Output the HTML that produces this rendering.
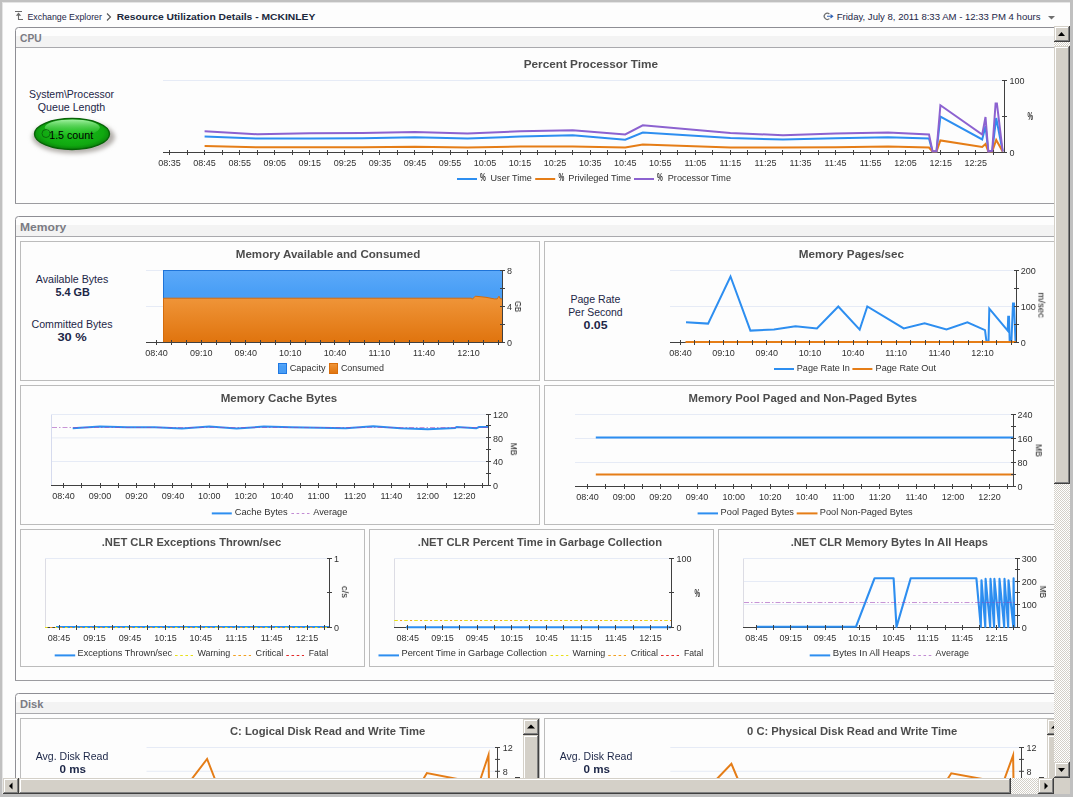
<!DOCTYPE html>
<html><head><meta charset="utf-8"><title>Resource Utilization Details - MCKINLEY</title>
<style>html,body{margin:0;padding:0;background:#c0c0c0;overflow:hidden}svg{display:block;font-family:"Liberation Sans",sans-serif}text{white-space:pre}.g{will-change:opacity}</style></head><body>
<svg width="1073" height="797" viewBox="0 0 1073 797">
<defs><pattern id="chk" width="2" height="2" patternUnits="userSpaceOnUse"><rect width="2" height="2" fill="#ffffff"/><rect width="1" height="1" fill="#d4d0c8"/><rect x="1" y="1" width="1" height="1" fill="#d4d0c8"/></pattern><linearGradient id="gor" x1="0" y1="0" x2="0" y2="1"><stop offset="0" stop-color="#f0963a"/><stop offset="1" stop-color="#e0740e"/></linearGradient><linearGradient id="gbl" x1="0" y1="0" x2="0" y2="1"><stop offset="0" stop-color="#5ca9f9"/><stop offset="0.3" stop-color="#4a9ff6"/><stop offset="1" stop-color="#479cf5"/></linearGradient><radialGradient id="ggr" cx="0.5" cy="0.45" r="0.6"><stop offset="0" stop-color="#1cc01c"/><stop offset="0.7" stop-color="#10a810"/><stop offset="1" stop-color="#077007"/></radialGradient><linearGradient id="ghl" x1="0" y1="0" x2="0" y2="1"><stop offset="0" stop-color="#a4f2a4" stop-opacity="1"/><stop offset="1" stop-color="#38cc38" stop-opacity="0.12"/></linearGradient><filter id="blur" x="-20%" y="-20%" width="140%" height="140%"><feGaussianBlur stdDeviation="2"/></filter></defs>
<rect x="0" y="0" width="1073" height="797" fill="#c0c0c0" />
<rect x="2" y="2" width="1068" height="792" fill="#e4e4e4" />
<rect x="3" y="3" width="1067" height="791" fill="#fdfdfd" />
<path d="M15 11.5H22M18.5 15V19.5H23" fill="none" stroke="#6a6a6a" stroke-width="1.1"/><path d="M18.5 12.6L21.2 15.8H15.8Z" fill="#6a6a6a"/>
<text x="27.5" y="20" font-size="9.5" fill="#1c2647" textLength="74.4" lengthAdjust="spacingAndGlyphs">Exchange Explorer</text>
<path d="M107 13.5L110.5 17L107 20.5" fill="none" stroke="#555" stroke-width="1.1"/>
<text x="116.7" y="20" font-size="9.6" fill="#20283c" font-weight="bold" textLength="198.6" lengthAdjust="spacingAndGlyphs">Resource Utilization Details - MCKINLEY</text>
<path d="M829.4 14A3.1 3.1 0 1 0 829.4 18.6" fill="none" stroke="#6e6e6e" stroke-width="1.2"/><path d="M827 16.3H832.4M830.5 14.6L832.7 16.3L830.5 18" fill="none" stroke="#2f62b5" stroke-width="1.1"/>
<text x="836.7" y="20" font-size="9.5" fill="#1c2647" textLength="203.8" lengthAdjust="spacingAndGlyphs">Friday, July 8, 2011 8:33 AM - 12:33 PM 4 hours</text>
<path d="M1048 16H1055L1051.5 19.6Z" fill="#6e6e6e"/>
<path d="M15.5 203.5V30.5Q15.5 27.5 18.5 27.5H1060" fill="none" stroke="#8e8e94"/>
<line x1="15" y1="203.5" x2="1060" y2="203.5" stroke="#9c9ca0" stroke-width="1" />
<rect x="16" y="36" width="1060" height="11" fill="#f3f3f3" />
<line x1="16" y1="47.5" x2="1060" y2="47.5" stroke="#a9a9ad" stroke-width="1" />
<text x="20" y="42" font-size="11" fill="#7b7b83" font-weight="bold" textLength="21.6" lengthAdjust="spacingAndGlyphs">CPU</text>
<text x="71.5" y="98" font-size="11" fill="#1c2647" text-anchor="middle" textLength="85.2" lengthAdjust="spacingAndGlyphs">System\Processor</text>
<text x="71.5" y="111" font-size="11" fill="#1c2647" text-anchor="middle" textLength="67.5" lengthAdjust="spacingAndGlyphs">Queue Length</text>
<ellipse cx="73.5" cy="137" rx="41.5" ry="16.5" fill="#b4b0ac" filter="url(#blur)"/>
<ellipse cx="72" cy="134" rx="37.5" ry="15.5" fill="url(#ggr)" stroke="#076407" stroke-width="1.4"/>
<ellipse cx="72.3" cy="127.6" rx="27.5" ry="8.2" fill="url(#ghl)"/>
<circle cx="46" cy="133.5" r="4" fill="none" stroke="#0a5a0a" stroke-width="0.8"/>
<text x="71.2" y="138.5" font-size="11" fill="#000" text-anchor="middle" textLength="44" lengthAdjust="spacingAndGlyphs">1.5 count</text>
<text x="590.9" y="67.7" font-size="11.5" fill="#4c4c4c" text-anchor="middle" font-weight="bold" textLength="134.4" lengthAdjust="spacingAndGlyphs" class="g">Percent Processor Time</text>
<line x1="163" y1="80.5" x2="1003" y2="80.5" stroke="#e6ebf6" stroke-width="1" />
<line x1="163" y1="152.5" x2="1005" y2="152.5" stroke="#404040" stroke-width="1" />
<polyline points="204.6,136.6 257.2,138.6 309.8,138.4 362.4,138.2 414.9,137.2 467.5,138.6 520.1,136.6 572.7,135.2 625.2,139.7 642.8,132.6 730.4,138.1 783.0,139.4 835.5,138.2 888.1,137.3 929.0,138.4 932.5,151.5 936.5,151.5 940.4,116.5 982.2,139.4 985.5,125.9 988.3,151.5 992.2,151.5 996.2,118.0 1002.7,151.5" fill="none" stroke="#2d8ef0" stroke-width="2" stroke-linejoin="miter" stroke-miterlimit="3" />
<polyline points="204.6,146.1 257.2,147.3 362.4,147.3 414.9,146.8 467.5,147.5 520.1,146.6 572.7,146.4 625.2,147.5 642.8,144.4 730.4,147.5 783.0,147.5 835.5,147.2 888.1,146.5 929.0,147.5 932.5,151.5 936.5,151.5 940.4,140.4 982.2,146.9 985.5,144.0 988.3,151.5 992.2,151.5 996.2,140.0 1002.7,151.5" fill="none" stroke="#e57d17" stroke-width="2" stroke-linejoin="miter" stroke-miterlimit="3" />
<polyline points="204.6,131.3 257.2,134.3 309.8,133.2 362.4,133.0 414.9,132.1 467.5,133.4 520.1,131.3 572.7,130.3 625.2,134.4 642.8,125.3 730.4,133.1 783.0,135.2 835.5,133.4 888.1,132.4 929.0,134.4 932.5,151.3 936.5,151.3 940.4,105.3 982.2,134.6 985.5,117.0 988.3,151.3 992.2,150.8 995.6,103.5 996.9,103.5 1002.7,151.5" fill="none" stroke="#8c62d0" stroke-width="2" stroke-linejoin="miter" stroke-miterlimit="3" />
<path d="M169.5 150V155M187.5 150V155M204.5 150V155M222.5 150V155M239.5 150V155M257.5 150V155M274.5 150V155M292.5 150V155M309.5 150V155M327.5 150V155M344.5 150V155M362.5 150V155M379.5 150V155M397.5 150V155M414.5 150V155M432.5 150V155M450.5 150V155M467.5 150V155M485.5 150V155M502.5 150V155M520.5 150V155M537.5 150V155M555.5 150V155M572.5 150V155M590.5 150V155M607.5 150V155M625.5 150V155M642.5 150V155M660.5 150V155M677.5 150V155M695.5 150V155M712.5 150V155M730.5 150V155M747.5 150V155M765.5 150V155M782.5 150V155M800.5 150V155M818.5 150V155M835.5 150V155M853.5 150V155M870.5 150V155M888.5 150V155M905.5 150V155M923.5 150V155M940.5 150V155M958.5 150V155M975.5 150V155M993.5 150V155" stroke="#404040" stroke-width="1" fill="none"/>
<text x="169.6" y="166" font-size="9" fill="#303030" text-anchor="middle" class="g">08:35</text>
<text x="204.6" y="166" font-size="9" fill="#303030" text-anchor="middle" class="g">08:45</text>
<text x="239.7" y="166" font-size="9" fill="#303030" text-anchor="middle" class="g">08:55</text>
<text x="274.8" y="166" font-size="9" fill="#303030" text-anchor="middle" class="g">09:05</text>
<text x="309.8" y="166" font-size="9" fill="#303030" text-anchor="middle" class="g">09:15</text>
<text x="344.9" y="166" font-size="9" fill="#303030" text-anchor="middle" class="g">09:25</text>
<text x="379.9" y="166" font-size="9" fill="#303030" text-anchor="middle" class="g">09:35</text>
<text x="414.9" y="166" font-size="9" fill="#303030" text-anchor="middle" class="g">09:45</text>
<text x="450.0" y="166" font-size="9" fill="#303030" text-anchor="middle" class="g">09:55</text>
<text x="485.0" y="166" font-size="9" fill="#303030" text-anchor="middle" class="g">10:05</text>
<text x="520.1" y="166" font-size="9" fill="#303030" text-anchor="middle" class="g">10:15</text>
<text x="555.1" y="166" font-size="9" fill="#303030" text-anchor="middle" class="g">10:25</text>
<text x="590.2" y="166" font-size="9" fill="#303030" text-anchor="middle" class="g">10:35</text>
<text x="625.2" y="166" font-size="9" fill="#303030" text-anchor="middle" class="g">10:45</text>
<text x="660.3" y="166" font-size="9" fill="#303030" text-anchor="middle" class="g">10:55</text>
<text x="695.4" y="166" font-size="9" fill="#303030" text-anchor="middle" class="g">11:05</text>
<text x="730.4" y="166" font-size="9" fill="#303030" text-anchor="middle" class="g">11:15</text>
<text x="765.5" y="166" font-size="9" fill="#303030" text-anchor="middle" class="g">11:25</text>
<text x="800.5" y="166" font-size="9" fill="#303030" text-anchor="middle" class="g">11:35</text>
<text x="835.5" y="166" font-size="9" fill="#303030" text-anchor="middle" class="g">11:45</text>
<text x="870.6" y="166" font-size="9" fill="#303030" text-anchor="middle" class="g">11:55</text>
<text x="905.6" y="166" font-size="9" fill="#303030" text-anchor="middle" class="g">12:05</text>
<text x="940.7" y="166" font-size="9" fill="#303030" text-anchor="middle" class="g">12:15</text>
<text x="975.8" y="166" font-size="9" fill="#303030" text-anchor="middle" class="g">12:25</text>
<line x1="1004.5" y1="80" x2="1004.5" y2="153" stroke="#404040" stroke-width="1" />
<path d="M1002 80.5H1007M1002 116.5H1007M1002 152.5H1007" stroke="#404040" stroke-width="1" fill="none"/>
<text x="1009.5" y="84.0" font-size="9" fill="#303030" class="g">100</text>
<text x="1009.5" y="156.0" font-size="9" fill="#303030" class="g">0</text>
<text class="g" x="1030.4" y="120.2" font-size="10.2" font-weight="bold" fill="#303030" text-anchor="middle" textLength="5.6" lengthAdjust="spacingAndGlyphs">%</text>
<line x1="457" y1="179" x2="477" y2="179" stroke="#2d8ef0" stroke-width="2" />
<text class="g" x="480" y="181" font-size="10.4" font-weight="bold" fill="#303030" textLength="5.8" lengthAdjust="spacingAndGlyphs">%</text>
<text x="490.6" y="181" font-size="9" fill="#303030" textLength="41.2" lengthAdjust="spacingAndGlyphs" class="g">User Time</text>
<line x1="535.2" y1="179" x2="555.2" y2="179" stroke="#e57d17" stroke-width="2" />
<text class="g" x="558.4" y="181" font-size="10.4" font-weight="bold" fill="#303030" textLength="5.8" lengthAdjust="spacingAndGlyphs">%</text>
<text x="568.3" y="181" font-size="9" fill="#303030" textLength="62.7" lengthAdjust="spacingAndGlyphs" class="g">Privileged Time</text>
<line x1="634" y1="179" x2="654" y2="179" stroke="#8c62d0" stroke-width="2" />
<text class="g" x="657" y="181" font-size="10.4" font-weight="bold" fill="#303030" textLength="5.8" lengthAdjust="spacingAndGlyphs">%</text>
<text x="667.8" y="181" font-size="9" fill="#303030" textLength="63.2" lengthAdjust="spacingAndGlyphs" class="g">Processor Time</text>
<path d="M15.5 680.5V219.5Q15.5 216.5 18.5 216.5H1060" fill="none" stroke="#8e8e94"/>
<line x1="15" y1="680.5" x2="1060" y2="680.5" stroke="#9c9ca0" stroke-width="1" />
<rect x="16" y="225" width="1060" height="11" fill="#f3f3f3" />
<line x1="16" y1="236.5" x2="1060" y2="236.5" stroke="#a9a9ad" stroke-width="1" />
<text x="20" y="231" font-size="11" fill="#7b7b83" font-weight="bold" textLength="46.3" lengthAdjust="spacingAndGlyphs">Memory</text>
<rect x="20.5" y="241.5" width="519" height="139" fill="none" stroke="#bcbcbc"/>
<text x="72" y="283.3" font-size="11" fill="#1c2647" text-anchor="middle" textLength="72.5" lengthAdjust="spacingAndGlyphs">Available Bytes</text>
<text x="72.6" y="296" font-size="11" fill="#1c2647" text-anchor="middle" font-weight="bold" textLength="34.4" lengthAdjust="spacingAndGlyphs">5.4 GB</text>
<text x="72" y="328" font-size="11" fill="#1c2647" text-anchor="middle" textLength="81" lengthAdjust="spacingAndGlyphs">Committed Bytes</text>
<text x="72.1" y="341" font-size="11" fill="#1c2647" text-anchor="middle" font-weight="bold" textLength="29.4" lengthAdjust="spacingAndGlyphs">30 %</text>
<text x="328" y="258" font-size="11.5" fill="#4c4c4c" text-anchor="middle" font-weight="bold" textLength="184.5" lengthAdjust="spacingAndGlyphs" class="g">Memory Available and Consumed</text>
<line x1="146" y1="270.5" x2="163" y2="270.5" stroke="#e6ebf6" stroke-width="1" />
<line x1="146" y1="306.5" x2="163" y2="306.5" stroke="#e6ebf6" stroke-width="1" />
<rect x="163" y="270" width="339.5" height="72" fill="url(#gbl)" />
<line x1="163" y1="270.5" x2="502.5" y2="270.5" stroke="#1f74d8" stroke-width="1" />
<path d="M163 342V298.2H471.5L472.3 299.2L475.3 296.2L486 297.3L494.4 298.9L497.2 298.9L499 296.2L500.3 298.8L502.5 299V342Z" fill="url(#gor)"/>
<path d="M163 298.2H471.5L472.3 299.2L475.3 296.2L486 297.3L494.4 298.9L497.2 298.9L499 296.2L500.3 298.8L502.5 299" fill="none" stroke="#d46c0c" stroke-width="1"/>
<line x1="163.5" y1="270" x2="163.5" y2="298.2" stroke="#1f74d8" stroke-width="1" />
<line x1="163.5" y1="298.2" x2="163.5" y2="342" stroke="#d46c0c" stroke-width="1" />
<line x1="146" y1="342.5" x2="503" y2="342.5" stroke="#404040" stroke-width="1" />
<path d="M156.5 340V345M171.5 340V345M186.5 340V345M201.5 340V345M216.5 340V345M230.5 340V345M245.5 340V345M260.5 340V345M275.5 340V345M290.5 340V345M305.5 340V345M320.5 340V345M334.5 340V345M349.5 340V345M364.5 340V345M379.5 340V345M394.5 340V345M409.5 340V345M423.5 340V345M438.5 340V345M453.5 340V345M468.5 340V345M483.5 340V345M498.5 340V345" stroke="#404040" stroke-width="1" fill="none"/>
<text x="156.6" y="356" font-size="9" fill="#303030" text-anchor="middle" class="g">08:40</text>
<text x="201.2" y="356" font-size="9" fill="#303030" text-anchor="middle" class="g">09:10</text>
<text x="245.7" y="356" font-size="9" fill="#303030" text-anchor="middle" class="g">09:40</text>
<text x="290.3" y="356" font-size="9" fill="#303030" text-anchor="middle" class="g">10:10</text>
<text x="334.9" y="356" font-size="9" fill="#303030" text-anchor="middle" class="g">10:40</text>
<text x="379.4" y="356" font-size="9" fill="#303030" text-anchor="middle" class="g">11:10</text>
<text x="424.0" y="356" font-size="9" fill="#303030" text-anchor="middle" class="g">11:40</text>
<text x="468.6" y="356" font-size="9" fill="#303030" text-anchor="middle" class="g">12:10</text>
<line x1="502.5" y1="270" x2="502.5" y2="343" stroke="#404040" stroke-width="1" />
<path d="M500 270.5H505M500 288.5H505M500 306.5H505M500 324.5H505M500 342.5H505" stroke="#404040" stroke-width="1" fill="none"/>
<text x="507" y="273.6" font-size="9" fill="#303030" class="g">8</text>
<text x="507" y="309.6" font-size="9" fill="#303030" class="g">4</text>
<text x="507" y="345.6" font-size="9" fill="#303030" class="g">0</text>
<text class="g" transform="translate(515 306.5) rotate(90)" font-size="9.8" fill="#111" text-anchor="middle" textLength="11" lengthAdjust="spacingAndGlyphs">GB</text>
<rect x="278.5" y="363.5" width="8" height="10" fill="url(#gbl)" stroke="#1f78e2"/>
<text x="289.7" y="370.7" font-size="9" fill="#303030" textLength="35.9" lengthAdjust="spacingAndGlyphs" class="g">Capacity</text>
<rect x="329.5" y="363.5" width="8" height="10" fill="url(#gor)" stroke="#d86e0c"/>
<text x="340.9" y="370.7" font-size="9" fill="#303030" textLength="43.1" lengthAdjust="spacingAndGlyphs" class="g">Consumed</text>
<rect x="544.5" y="241.5" width="519" height="139" fill="none" stroke="#bcbcbc"/>
<text x="595.4" y="303" font-size="11" fill="#1c2647" text-anchor="middle" textLength="50" lengthAdjust="spacingAndGlyphs">Page Rate</text>
<text x="595.4" y="315.6" font-size="11" fill="#1c2647" text-anchor="middle" textLength="54.5" lengthAdjust="spacingAndGlyphs">Per Second</text>
<text x="595.6" y="329" font-size="11" fill="#1c2647" text-anchor="middle" font-weight="bold" textLength="24" lengthAdjust="spacingAndGlyphs">0.05</text>
<text x="851.4" y="258" font-size="11.5" fill="#4c4c4c" text-anchor="middle" font-weight="bold" textLength="105.2" lengthAdjust="spacingAndGlyphs" class="g">Memory Pages/sec</text>
<line x1="670" y1="270.5" x2="1015" y2="270.5" stroke="#e6ebf6" stroke-width="1" />
<line x1="670" y1="306.5" x2="1015" y2="306.5" stroke="#e6ebf6" stroke-width="1" />
<line x1="670" y1="342.5" x2="1017" y2="342.5" stroke="#404040" stroke-width="1" />
<polyline points="686.0,322.3 708.1,323.6 730.5,276.5 750.4,330.6 774.0,329.4 795.5,326.3 816.9,328.4 838.3,306.5 859.7,329.6 867.3,306.5 903.7,328.4 924.6,323.3 946.5,329.4 967.4,322.3 985.0,330.1 986.5,341.7 988.5,341.7 989.3,308.7 1007.7,330.6 1008.2,316.8 1009.0,316.8 1009.7,341.7 1011.4,341.7 1013.0,303.4 1014.0,303.4 1015.5,341.7" fill="none" stroke="#2d8ef0" stroke-width="2" stroke-linejoin="miter" stroke-miterlimit="3" />
<line x1="685.5" y1="342.1" x2="1016" y2="342.1" stroke="#e57d17" stroke-width="2" />
<path d="M680.5 340V345M694.5 340V345M709.5 340V345M723.5 340V345M737.5 340V345M752.5 340V345M766.5 340V345M781.5 340V345M795.5 340V345M809.5 340V345M824.5 340V345M838.5 340V345M853.5 340V345M867.5 340V345M881.5 340V345M896.5 340V345M910.5 340V345M925.5 340V345M939.5 340V345M953.5 340V345M968.5 340V345M982.5 340V345M996.5 340V345M1011.5 340V345" stroke="#404040" stroke-width="1" fill="none"/>
<text x="680.4" y="356" font-size="9" fill="#303030" text-anchor="middle" class="g">08:40</text>
<text x="723.6" y="356" font-size="9" fill="#303030" text-anchor="middle" class="g">09:10</text>
<text x="766.7" y="356" font-size="9" fill="#303030" text-anchor="middle" class="g">09:40</text>
<text x="809.9" y="356" font-size="9" fill="#303030" text-anchor="middle" class="g">10:10</text>
<text x="853.1" y="356" font-size="9" fill="#303030" text-anchor="middle" class="g">10:40</text>
<text x="896.2" y="356" font-size="9" fill="#303030" text-anchor="middle" class="g">11:10</text>
<text x="939.4" y="356" font-size="9" fill="#303030" text-anchor="middle" class="g">11:40</text>
<text x="982.6" y="356" font-size="9" fill="#303030" text-anchor="middle" class="g">12:10</text>
<line x1="1016.5" y1="270" x2="1016.5" y2="343" stroke="#404040" stroke-width="1" />
<path d="M1014 270.5H1019M1014 288.5H1019M1014 306.5H1019M1014 324.5H1019M1014 342.5H1019" stroke="#404040" stroke-width="1" fill="none"/>
<text x="1020.7" y="274.0" font-size="9" fill="#303030" class="g">200</text>
<text x="1020.7" y="310.0" font-size="9" fill="#303030" class="g">100</text>
<text x="1020.7" y="346.0" font-size="9" fill="#303030" class="g">0</text>
<text class="g" transform="translate(1038.4 305.2) rotate(90)" font-size="9.8" fill="#111" text-anchor="middle" textLength="25.4" lengthAdjust="spacingAndGlyphs">m/sec</text>
<line x1="774" y1="369" x2="794" y2="369" stroke="#2d8ef0" stroke-width="2" />
<text x="796.8" y="370.6" font-size="9" fill="#303030" textLength="53.1" lengthAdjust="spacingAndGlyphs" class="g">Page Rate In</text>
<line x1="852.4" y1="369" x2="872.4" y2="369" stroke="#e57d17" stroke-width="2" />
<text x="875.6" y="370.6" font-size="9" fill="#303030" textLength="60.4" lengthAdjust="spacingAndGlyphs" class="g">Page Rate Out</text>
<rect x="20.5" y="385.5" width="519" height="139" fill="none" stroke="#bcbcbc"/>
<text x="279" y="402" font-size="11.5" fill="#4c4c4c" text-anchor="middle" font-weight="bold" textLength="116.6" lengthAdjust="spacingAndGlyphs" class="g">Memory Cache Bytes</text>
<line x1="51.5" y1="414" x2="51.5" y2="485" stroke="#d6dbee" stroke-width="1" />
<line x1="51" y1="414.5" x2="488" y2="414.5" stroke="#e6ebf6" stroke-width="1" />
<line x1="52" y1="437.9" x2="488" y2="437.9" stroke="#e6ebf6" stroke-width="1" />
<line x1="52" y1="461.5" x2="488" y2="461.5" stroke="#e6ebf6" stroke-width="1" />
<line x1="51" y1="485.5" x2="489" y2="485.5" stroke="#404040" stroke-width="1" />
<polyline points="72.7,428.3 100.0,426.6 127.3,427.3 154.7,427.3 182.0,428.6 209.3,426.6 236.6,428.6 263.9,426.6 291.2,427.3 318.5,427.8 345.9,428.2 373.2,426.3 400.5,428.3 427.8,429.3 455.1,427.9 456.7,427.0 476.3,428.3 478.9,427.0 488.0,427.0" fill="none" stroke="#2d8ef0" stroke-width="2" stroke-linejoin="miter" stroke-miterlimit="3" />
<line x1="52" y1="427.5" x2="488" y2="427.5" stroke="#9c40b8" stroke-width="1" stroke-dasharray="5 2 1.5 2" opacity="0.55"/>
<path d="M63.5 483V488M81.5 483V488M100.5 483V488M118.5 483V488M136.5 483V488M154.5 483V488M172.5 483V488M191.5 483V488M209.5 483V488M227.5 483V488M245.5 483V488M263.5 483V488M282.5 483V488M300.5 483V488M318.5 483V488M336.5 483V488M354.5 483V488M373.5 483V488M391.5 483V488M409.5 483V488M427.5 483V488M446.5 483V488M464.5 483V488M482.5 483V488" stroke="#404040" stroke-width="1" fill="none"/>
<text x="63.6" y="499" font-size="9" fill="#303030" text-anchor="middle" class="g">08:40</text>
<text x="100.0" y="499" font-size="9" fill="#303030" text-anchor="middle" class="g">09:00</text>
<text x="136.4" y="499" font-size="9" fill="#303030" text-anchor="middle" class="g">09:20</text>
<text x="172.9" y="499" font-size="9" fill="#303030" text-anchor="middle" class="g">09:40</text>
<text x="209.3" y="499" font-size="9" fill="#303030" text-anchor="middle" class="g">10:00</text>
<text x="245.7" y="499" font-size="9" fill="#303030" text-anchor="middle" class="g">10:20</text>
<text x="282.1" y="499" font-size="9" fill="#303030" text-anchor="middle" class="g">10:40</text>
<text x="318.5" y="499" font-size="9" fill="#303030" text-anchor="middle" class="g">11:00</text>
<text x="355.0" y="499" font-size="9" fill="#303030" text-anchor="middle" class="g">11:20</text>
<text x="391.4" y="499" font-size="9" fill="#303030" text-anchor="middle" class="g">11:40</text>
<text x="427.8" y="499" font-size="9" fill="#303030" text-anchor="middle" class="g">12:00</text>
<text x="464.2" y="499" font-size="9" fill="#303030" text-anchor="middle" class="g">12:20</text>
<line x1="488.5" y1="414" x2="488.5" y2="486" stroke="#404040" stroke-width="1" />
<path d="M486 414.5H491M486 425.5H491M486 437.5H491M486 449.5H491M486 461.5H491M486 473.5H491M486 485.5H491" stroke="#404040" stroke-width="1" fill="none"/>
<text x="493" y="418.0" font-size="9" fill="#303030" class="g">120</text>
<text x="493" y="441.7" font-size="9" fill="#303030" class="g">80</text>
<text x="493" y="465.3" font-size="9" fill="#303030" class="g">40</text>
<text x="493" y="489.0" font-size="9" fill="#303030" class="g">0</text>
<text class="g" transform="translate(510.8 449.2) rotate(90)" font-size="9.8" fill="#111" text-anchor="middle" textLength="12.4" lengthAdjust="spacingAndGlyphs">MB</text>
<line x1="211.8" y1="513.4" x2="231.8" y2="513.4" stroke="#2d8ef0" stroke-width="2" />
<text x="234.7" y="515" font-size="9" fill="#303030" textLength="52.9" lengthAdjust="spacingAndGlyphs" class="g">Cache Bytes</text>
<line x1="291.4" y1="513.5" x2="309.5" y2="513.5" stroke="#9c40b8" stroke-width="1" stroke-dasharray="2.6 2.6" opacity="0.6"/>
<text x="313.3" y="515" font-size="9" fill="#303030" textLength="34" lengthAdjust="spacingAndGlyphs" class="g">Average</text>
<rect x="544.5" y="385.5" width="519" height="139" fill="none" stroke="#bcbcbc"/>
<text x="802.8" y="402" font-size="11.5" fill="#4c4c4c" text-anchor="middle" font-weight="bold" textLength="228.5" lengthAdjust="spacingAndGlyphs" class="g">Memory Pool Paged and Non-Paged Bytes</text>
<line x1="575" y1="414.5" x2="1013" y2="414.5" stroke="#e6ebf6" stroke-width="1" />
<line x1="575" y1="438.5" x2="1013" y2="438.5" stroke="#e6ebf6" stroke-width="1" />
<line x1="575" y1="462.5" x2="1013" y2="462.5" stroke="#e6ebf6" stroke-width="1" />
<line x1="575" y1="486.5" x2="1014" y2="486.5" stroke="#404040" stroke-width="1" />
<line x1="595.8" y1="437.5" x2="1013" y2="437.5" stroke="#2d8ef0" stroke-width="2" />
<line x1="595.8" y1="474.5" x2="1013" y2="474.5" stroke="#e57d17" stroke-width="2" />
<path d="M587.5 484V489M605.5 484V489M624.5 484V489M642.5 484V489M660.5 484V489M678.5 484V489M697.5 484V489M715.5 484V489M733.5 484V489M751.5 484V489M770.5 484V489M788.5 484V489M806.5 484V489M825.5 484V489M843.5 484V489M861.5 484V489M879.5 484V489M898.5 484V489M916.5 484V489M934.5 484V489M952.5 484V489M971.5 484V489M989.5 484V489M1007.5 484V489" stroke="#404040" stroke-width="1" fill="none"/>
<text x="587.5" y="500" font-size="9" fill="#303030" text-anchor="middle" class="g">08:40</text>
<text x="624.0" y="500" font-size="9" fill="#303030" text-anchor="middle" class="g">09:00</text>
<text x="660.6" y="500" font-size="9" fill="#303030" text-anchor="middle" class="g">09:20</text>
<text x="697.1" y="500" font-size="9" fill="#303030" text-anchor="middle" class="g">09:40</text>
<text x="733.7" y="500" font-size="9" fill="#303030" text-anchor="middle" class="g">10:00</text>
<text x="770.2" y="500" font-size="9" fill="#303030" text-anchor="middle" class="g">10:20</text>
<text x="806.7" y="500" font-size="9" fill="#303030" text-anchor="middle" class="g">10:40</text>
<text x="843.3" y="500" font-size="9" fill="#303030" text-anchor="middle" class="g">11:00</text>
<text x="879.8" y="500" font-size="9" fill="#303030" text-anchor="middle" class="g">11:20</text>
<text x="916.4" y="500" font-size="9" fill="#303030" text-anchor="middle" class="g">11:40</text>
<text x="952.9" y="500" font-size="9" fill="#303030" text-anchor="middle" class="g">12:00</text>
<text x="989.4" y="500" font-size="9" fill="#303030" text-anchor="middle" class="g">12:20</text>
<line x1="1013.5" y1="414" x2="1013.5" y2="487" stroke="#404040" stroke-width="1" />
<path d="M1011 414.5H1016M1011 426.5H1016M1011 438.5H1016M1011 450.5H1016M1011 462.5H1016M1011 474.5H1016M1011 486.5H1016" stroke="#404040" stroke-width="1" fill="none"/>
<text x="1017.5" y="418.0" font-size="9" fill="#303030" class="g">240</text>
<text x="1017.5" y="442.0" font-size="9" fill="#303030" class="g">160</text>
<text x="1017.5" y="466.0" font-size="9" fill="#303030" class="g">80</text>
<text x="1017.5" y="490.0" font-size="9" fill="#303030" class="g">0</text>
<text class="g" transform="translate(1035.8 450.5) rotate(90)" font-size="9.8" fill="#111" text-anchor="middle" textLength="12.5" lengthAdjust="spacingAndGlyphs">MB</text>
<line x1="697.6" y1="513.4" x2="718.0" y2="513.4" stroke="#2d8ef0" stroke-width="2" />
<text x="720.6" y="514.8" font-size="9" fill="#303030" textLength="73.4" lengthAdjust="spacingAndGlyphs" class="g">Pool Paged Bytes</text>
<line x1="796.7" y1="513.4" x2="817.5" y2="513.4" stroke="#e57d17" stroke-width="2" />
<text x="819.8" y="514.8" font-size="9" fill="#303030" textLength="92.9" lengthAdjust="spacingAndGlyphs" class="g">Pool Non-Paged Bytes</text>
<rect x="20.5" y="529.5" width="344" height="137" fill="none" stroke="#bcbcbc"/>
<text x="191.5" y="546" font-size="11.5" fill="#4c4c4c" text-anchor="middle" font-weight="bold" textLength="179.5" lengthAdjust="spacingAndGlyphs" class="g">.NET CLR Exceptions Thrown/sec</text>
<line x1="45.5" y1="558" x2="45.5" y2="627" stroke="#dcdce4" stroke-width="1" />
<line x1="45" y1="558.5" x2="329" y2="558.5" stroke="#e6ebf6" stroke-width="1" />
<line x1="45" y1="627.5" x2="330" y2="627.5" stroke="#404040" stroke-width="1" />
<line x1="56" y1="627" x2="329" y2="627" stroke="#2d8ef0" stroke-width="2" />
<line x1="45" y1="627.5" x2="329" y2="627.5" stroke="#e8e018" stroke-width="1" stroke-dasharray="2.6 7.4"/>
<line x1="50" y1="627.5" x2="329" y2="627.5" stroke="#f2a020" stroke-width="1" stroke-dasharray="2.4 7.6"/>
<path d="M59.5 625V630M76.5 625V630M94.5 625V630M112.5 625V630M129.5 625V630M147.5 625V630M165.5 625V630M183.5 625V630M200.5 625V630M218.5 625V630M236.5 625V630M253.5 625V630M271.5 625V630M289.5 625V630M307.5 625V630M324.5 625V630" stroke="#404040" stroke-width="1" fill="none"/>
<text x="59.0" y="641" font-size="9" fill="#303030" text-anchor="middle" class="g">08:45</text>
<text x="94.5" y="641" font-size="9" fill="#303030" text-anchor="middle" class="g">09:15</text>
<text x="129.9" y="641" font-size="9" fill="#303030" text-anchor="middle" class="g">09:45</text>
<text x="165.4" y="641" font-size="9" fill="#303030" text-anchor="middle" class="g">10:15</text>
<text x="200.8" y="641" font-size="9" fill="#303030" text-anchor="middle" class="g">10:45</text>
<text x="236.2" y="641" font-size="9" fill="#303030" text-anchor="middle" class="g">11:15</text>
<text x="271.7" y="641" font-size="9" fill="#303030" text-anchor="middle" class="g">11:45</text>
<text x="307.1" y="641" font-size="9" fill="#303030" text-anchor="middle" class="g">12:15</text>
<line x1="329.5" y1="558" x2="329.5" y2="628" stroke="#404040" stroke-width="1" />
<path d="M327 558.5H332M327 592.5H332M327 627.5H332" stroke="#404040" stroke-width="1" fill="none"/>
<text x="334" y="562.0" font-size="9" fill="#303030" class="g">1</text>
<text x="334" y="631.0" font-size="9" fill="#303030" class="g">0</text>
<text class="g" transform="translate(341.9 591.9) rotate(90)" font-size="9.8" fill="#111" text-anchor="middle" textLength="12.2" lengthAdjust="spacingAndGlyphs">c/s</text>
<line x1="54.7" y1="655.4" x2="75.2" y2="655.4" stroke="#2d8ef0" stroke-width="2" />
<text x="77.6" y="656.2" font-size="9" fill="#303030" textLength="94.5" lengthAdjust="spacingAndGlyphs" class="g">Exceptions Thrown/sec</text>
<line x1="175" y1="655.5" x2="193" y2="655.5" stroke="#e8e018" stroke-width="1" stroke-dasharray="2.6 2.6"/>
<text x="197.4" y="656.2" font-size="9" fill="#303030" textLength="32.8" lengthAdjust="spacingAndGlyphs" class="g">Warning</text>
<line x1="233.2" y1="655.5" x2="251" y2="655.5" stroke="#f2a020" stroke-width="1" stroke-dasharray="2.6 2.6"/>
<text x="255.6" y="656.2" font-size="9" fill="#303030" textLength="27.7" lengthAdjust="spacingAndGlyphs" class="g">Critical</text>
<line x1="286.3" y1="655.5" x2="304" y2="655.5" stroke="#e42a2a" stroke-width="1" stroke-dasharray="2.6 2.6"/>
<text x="308.8" y="656.2" font-size="9" fill="#303030" textLength="19.3" lengthAdjust="spacingAndGlyphs" class="g">Fatal</text>
<rect x="369.5" y="529.5" width="344" height="137" fill="none" stroke="#bcbcbc"/>
<text x="539.9" y="546" font-size="11.5" fill="#4c4c4c" text-anchor="middle" font-weight="bold" textLength="244.2" lengthAdjust="spacingAndGlyphs" class="g">.NET CLR Percent Time in Garbage Collection</text>
<line x1="394.5" y1="558" x2="394.5" y2="627" stroke="#dcdce4" stroke-width="1" />
<line x1="394" y1="558.5" x2="671" y2="558.5" stroke="#e6ebf6" stroke-width="1" />
<line x1="394.2" y1="620.5" x2="671" y2="620.5" stroke="#e8e018" stroke-width="1" stroke-dasharray="3.6 6.4"/>
<line x1="400" y1="620.5" x2="671" y2="620.5" stroke="#f2a020" stroke-width="1" stroke-dasharray="2.1 7.9"/>
<line x1="394" y1="627.5" x2="672" y2="627.5" stroke="#404040" stroke-width="1" />
<line x1="406" y1="627.2" x2="671" y2="627.2" stroke="#2d8ef0" stroke-width="2" />
<path d="M407.5 625V630M425.5 625V630M442.5 625V630M459.5 625V630M477.5 625V630M494.5 625V630M511.5 625V630M529.5 625V630M546.5 625V630M563.5 625V630M581.5 625V630M598.5 625V630M615.5 625V630M633.5 625V630M650.5 625V630M667.5 625V630" stroke="#404040" stroke-width="1" fill="none"/>
<text x="407.7" y="641" font-size="9" fill="#303030" text-anchor="middle" class="g">08:45</text>
<text x="442.4" y="641" font-size="9" fill="#303030" text-anchor="middle" class="g">09:15</text>
<text x="477.1" y="641" font-size="9" fill="#303030" text-anchor="middle" class="g">09:45</text>
<text x="511.8" y="641" font-size="9" fill="#303030" text-anchor="middle" class="g">10:15</text>
<text x="546.5" y="641" font-size="9" fill="#303030" text-anchor="middle" class="g">10:45</text>
<text x="581.2" y="641" font-size="9" fill="#303030" text-anchor="middle" class="g">11:15</text>
<text x="615.9" y="641" font-size="9" fill="#303030" text-anchor="middle" class="g">11:45</text>
<text x="650.6" y="641" font-size="9" fill="#303030" text-anchor="middle" class="g">12:15</text>
<line x1="671.5" y1="558" x2="671.5" y2="628" stroke="#404040" stroke-width="1" />
<path d="M669 558.5H674M669 592.5H674M669 627.5H674" stroke="#404040" stroke-width="1" fill="none"/>
<text x="676.5" y="562.0" font-size="9" fill="#303030" class="g">100</text>
<text x="676.5" y="631.0" font-size="9" fill="#303030" class="g">0</text>
<text class="g" x="697.2" y="596.7" font-size="10.2" font-weight="bold" fill="#303030" text-anchor="middle" textLength="5.6" lengthAdjust="spacingAndGlyphs">%</text>
<line x1="378.5" y1="655.4" x2="399.0" y2="655.4" stroke="#2d8ef0" stroke-width="2" />
<text x="401.5" y="656.2" font-size="9" fill="#303030" textLength="145.5" lengthAdjust="spacingAndGlyphs" class="g">Percent Time in Garbage Collection</text>
<line x1="550.5" y1="655.5" x2="568.3" y2="655.5" stroke="#e8e018" stroke-width="1" stroke-dasharray="2.6 2.6"/>
<text x="572.5" y="656.2" font-size="9" fill="#303030" textLength="32.8" lengthAdjust="spacingAndGlyphs" class="g">Warning</text>
<line x1="608.2" y1="655.5" x2="626" y2="655.5" stroke="#f2a020" stroke-width="1" stroke-dasharray="2.6 2.6"/>
<text x="630.7" y="656.2" font-size="9" fill="#303030" textLength="27.4" lengthAdjust="spacingAndGlyphs" class="g">Critical</text>
<line x1="661" y1="655.5" x2="679" y2="655.5" stroke="#e42a2a" stroke-width="1" stroke-dasharray="2.6 2.6"/>
<text x="683.9" y="656.2" font-size="9" fill="#303030" textLength="19.3" lengthAdjust="spacingAndGlyphs" class="g">Fatal</text>
<rect x="718.5" y="529.5" width="344" height="137" fill="none" stroke="#bcbcbc"/>
<text x="889.3" y="546" font-size="11.5" fill="#4c4c4c" text-anchor="middle" font-weight="bold" textLength="197.3" lengthAdjust="spacingAndGlyphs" class="g">.NET CLR Memory Bytes In All Heaps</text>
<line x1="743.5" y1="558" x2="743.5" y2="627" stroke="#dcdce4" stroke-width="1" />
<line x1="743" y1="558.5" x2="1017" y2="558.5" stroke="#e6ebf6" stroke-width="1" />
<line x1="744" y1="581.5" x2="1017" y2="581.5" stroke="#e6ebf6" stroke-width="1" />
<line x1="744" y1="604.5" x2="1017" y2="604.5" stroke="#e6ebf6" stroke-width="1" />
<line x1="743" y1="627.5" x2="1018" y2="627.5" stroke="#404040" stroke-width="1" />
<polyline points="756.0,626.8 855.9,626.8 874.6,578.2 893.6,578.2 896.5,627.0 910.7,578.2 976.4,578.3 980.8,627.0 981.5,580.2 985.3,627.0 985.6,578.8 990.2,627.0 990.5,578.8 994.1,627.0 994.4,578.8 999.2,627.0 999.5,578.8 1004.2,627.0 1004.5,578.8 1008.2,627.0 1008.5,580.2 1013.3,627.0 1013.6,578.3 1014.3,627.0" fill="none" stroke="#2d8ef0" stroke-width="2.1" stroke-linejoin="round" stroke-miterlimit="3" />
<line x1="744" y1="602.5" x2="1017" y2="602.5" stroke="#9c40b8" stroke-width="1" stroke-dasharray="5 2 1.5 2" opacity="0.55"/>
<path d="M756.5 625V630M773.5 625V630M790.5 625V630M807.5 625V630M825.5 625V630M842.5 625V630M859.5 625V630M876.5 625V630M893.5 625V630M910.5 625V630M927.5 625V630M945.5 625V630M962.5 625V630M979.5 625V630M996.5 625V630M1013.5 625V630" stroke="#404040" stroke-width="1" fill="none"/>
<text x="756.5" y="641" font-size="9" fill="#303030" text-anchor="middle" class="g">08:45</text>
<text x="790.8" y="641" font-size="9" fill="#303030" text-anchor="middle" class="g">09:15</text>
<text x="825.1" y="641" font-size="9" fill="#303030" text-anchor="middle" class="g">09:45</text>
<text x="859.3" y="641" font-size="9" fill="#303030" text-anchor="middle" class="g">10:15</text>
<text x="893.6" y="641" font-size="9" fill="#303030" text-anchor="middle" class="g">10:45</text>
<text x="927.9" y="641" font-size="9" fill="#303030" text-anchor="middle" class="g">11:15</text>
<text x="962.2" y="641" font-size="9" fill="#303030" text-anchor="middle" class="g">11:45</text>
<text x="996.5" y="641" font-size="9" fill="#303030" text-anchor="middle" class="g">12:15</text>
<line x1="1017.5" y1="558" x2="1017.5" y2="628" stroke="#404040" stroke-width="1" />
<path d="M1015 558.5H1020M1015 569.5H1020M1015 581.5H1020M1015 592.5H1020M1015 604.5H1020M1015 615.5H1020M1015 627.5H1020" stroke="#404040" stroke-width="1" fill="none"/>
<text x="1021.8" y="562.0" font-size="9" fill="#303030" class="g">300</text>
<text x="1021.8" y="585.0" font-size="9" fill="#303030" class="g">200</text>
<text x="1021.8" y="608.0" font-size="9" fill="#303030" class="g">100</text>
<text x="1021.8" y="631.0" font-size="9" fill="#303030" class="g">0</text>
<text class="g" transform="translate(1040 591.8) rotate(90)" font-size="9.8" fill="#111" text-anchor="middle" textLength="12.2" lengthAdjust="spacingAndGlyphs">MB</text>
<line x1="809.7" y1="655.4" x2="830.2" y2="655.4" stroke="#2d8ef0" stroke-width="2" />
<text x="832.8" y="656.2" font-size="9" fill="#303030" textLength="77.3" lengthAdjust="spacingAndGlyphs" class="g">Bytes In All Heaps</text>
<line x1="913.1" y1="655.5" x2="931.4" y2="655.5" stroke="#9c40b8" stroke-width="1" stroke-dasharray="2.6 2.6" opacity="0.6"/>
<text x="935.6" y="656.2" font-size="9" fill="#303030" textLength="33.3" lengthAdjust="spacingAndGlyphs" class="g">Average</text>
<path d="M15.5 833.5V696.5Q15.5 693.5 18.5 693.5H1060" fill="none" stroke="#8e8e94"/>
<line x1="15" y1="833.5" x2="1060" y2="833.5" stroke="#9c9ca0" stroke-width="1" />
<rect x="16" y="702" width="1060" height="11" fill="#f3f3f3" />
<line x1="16" y1="713.5" x2="1060" y2="713.5" stroke="#a9a9ad" stroke-width="1" />
<text x="20" y="708" font-size="11" fill="#7b7b83" font-weight="bold" textLength="23.5" lengthAdjust="spacingAndGlyphs">Disk</text>
<rect x="20.5" y="718.5" width="519" height="100" fill="none" stroke="#bcbcbc"/>
<text x="327.6" y="735" font-size="11.5" fill="#4c4c4c" text-anchor="middle" font-weight="bold" textLength="195.3" lengthAdjust="spacingAndGlyphs" class="g">C: Logical Disk Read and Write Time</text>
<text x="72" y="760" font-size="11" fill="#1c2647" text-anchor="middle" textLength="72.5" lengthAdjust="spacingAndGlyphs">Avg. Disk Read</text>
<text x="72.8" y="773" font-size="11" fill="#1c2647" text-anchor="middle" font-weight="bold" textLength="26.5" lengthAdjust="spacingAndGlyphs">0 ms</text>
<line x1="146.5" y1="747.5" x2="497" y2="747.5" stroke="#e6ebf6" stroke-width="1" />
<line x1="146.5" y1="771.3" x2="497" y2="771.3" stroke="#e6ebf6" stroke-width="1" />
<polyline points="185.0,787.8 207.1,758.9 218.4,788.0" fill="none" stroke="#e57d17" stroke-width="2" stroke-linejoin="miter" stroke-miterlimit="12" />
<polyline points="417.9,788.0 426.9,773.0 460.0,779.5" fill="none" stroke="#e57d17" stroke-width="2" stroke-linejoin="miter" stroke-miterlimit="3" />
<polyline points="477.5,788.0 488.5,755.0 489.1,788.0" fill="none" stroke="#e57d17" stroke-width="2" stroke-linejoin="miter" stroke-miterlimit="30" />
<line x1="497.5" y1="747" x2="497.5" y2="790" stroke="#404040" stroke-width="1" />
<path d="M495 747.5H500M495 759.4H500M495 771.3H500" stroke="#404040" fill="none"/>
<text x="502.7" y="751.2" font-size="9" fill="#303030" class="g">12</text>
<text x="502.7" y="775" font-size="9" fill="#303030" class="g">8</text>
<line x1="515" y1="777.5" x2="520" y2="777.5" stroke="#404040" stroke-width="1" />
<rect x="544.5" y="718.5" width="519" height="100" fill="none" stroke="#bcbcbc"/>
<text x="852.2" y="735" font-size="11.5" fill="#4c4c4c" text-anchor="middle" font-weight="bold" textLength="210.3" lengthAdjust="spacingAndGlyphs" class="g">0 C: Physical Disk Read and Write Time</text>
<text x="596" y="760" font-size="11" fill="#1c2647" text-anchor="middle" textLength="72.5" lengthAdjust="spacingAndGlyphs">Avg. Disk Read</text>
<text x="596.8" y="773" font-size="11" fill="#1c2647" text-anchor="middle" font-weight="bold" textLength="26.5" lengthAdjust="spacingAndGlyphs">0 ms</text>
<line x1="670.3" y1="747.5" x2="1021" y2="747.5" stroke="#e6ebf6" stroke-width="1" />
<line x1="670.3" y1="771.3" x2="1021" y2="771.3" stroke="#e6ebf6" stroke-width="1" />
<polyline points="708.2,788.0 731.4,763.8 741.6,788.0" fill="none" stroke="#e57d17" stroke-width="2" stroke-linejoin="miter" stroke-miterlimit="12" />
<polyline points="941.8,788.0 951.3,773.3 985.0,779.5" fill="none" stroke="#e57d17" stroke-width="2" stroke-linejoin="miter" stroke-miterlimit="3" />
<polyline points="1001.2,788.0 1013.1,755.5 1013.6,788.0" fill="none" stroke="#e57d17" stroke-width="2" stroke-linejoin="miter" stroke-miterlimit="30" />
<line x1="1021.5" y1="747" x2="1021.5" y2="790" stroke="#404040" stroke-width="1" />
<path d="M1019 747.5H1024M1019 759.4H1024M1019 771.3H1024" stroke="#404040" fill="none"/>
<text x="1026.5" y="751.2" font-size="9" fill="#303030" class="g">12</text>
<text x="1026.5" y="775" font-size="9" fill="#303030" class="g">8</text>
<line x1="1039" y1="777.5" x2="1044" y2="777.5" stroke="#404040" stroke-width="1" />
<rect x="523" y="719" width="16" height="70" fill="url(#chk)" />
<rect x="523" y="719" width="16" height="16" fill="#d4d0c8" />
<rect x="524" y="720" width="14" height="1" fill="#ffffff" />
<rect x="524" y="720" width="1" height="14" fill="#ffffff" />
<rect x="537" y="720" width="1" height="14" fill="#808080" />
<rect x="524" y="733" width="14" height="1" fill="#808080" />
<rect x="538" y="719" width="1" height="16" fill="#404040" />
<rect x="523" y="734" width="16" height="1" fill="#404040" />
<path d="M527 728.5L531 724.5L535 728.5Z" fill="#000"/>
<rect x="523" y="735" width="16" height="60" fill="#d4d0c8" />
<rect x="524" y="736" width="14" height="1" fill="#ffffff" />
<rect x="524" y="736" width="1" height="58" fill="#ffffff" />
<rect x="537" y="736" width="1" height="58" fill="#808080" />
<rect x="524" y="793" width="14" height="1" fill="#808080" />
<rect x="538" y="735" width="1" height="60" fill="#404040" />
<rect x="523" y="794" width="16" height="1" fill="#404040" />
<rect x="1047" y="719" width="16" height="70" fill="url(#chk)" />
<rect x="1047" y="719" width="16" height="16" fill="#d4d0c8" />
<rect x="1048" y="720" width="14" height="1" fill="#ffffff" />
<rect x="1048" y="720" width="1" height="14" fill="#ffffff" />
<rect x="1061" y="720" width="1" height="14" fill="#808080" />
<rect x="1048" y="733" width="14" height="1" fill="#808080" />
<rect x="1062" y="719" width="1" height="16" fill="#404040" />
<rect x="1047" y="734" width="16" height="1" fill="#404040" />
<path d="M1051 728.5L1055 724.5L1059 728.5Z" fill="#000"/>
<rect x="1047" y="735" width="16" height="60" fill="#d4d0c8" />
<rect x="1048" y="736" width="14" height="1" fill="#ffffff" />
<rect x="1048" y="736" width="1" height="58" fill="#ffffff" />
<rect x="1061" y="736" width="1" height="58" fill="#808080" />
<rect x="1048" y="793" width="14" height="1" fill="#808080" />
<rect x="1062" y="735" width="1" height="60" fill="#404040" />
<rect x="1047" y="794" width="16" height="1" fill="#404040" />
<rect x="1054" y="26" width="16" height="752" fill="url(#chk)" />
<rect x="1054" y="26" width="16" height="16" fill="#d4d0c8" />
<rect x="1055" y="27" width="14" height="1" fill="#ffffff" />
<rect x="1055" y="27" width="1" height="14" fill="#ffffff" />
<rect x="1068" y="27" width="1" height="14" fill="#808080" />
<rect x="1055" y="40" width="14" height="1" fill="#808080" />
<rect x="1069" y="26" width="1" height="16" fill="#404040" />
<rect x="1054" y="41" width="16" height="1" fill="#404040" />
<path d="M1058 36L1061.5 32L1065 36Z" fill="#000"/>
<rect x="1054" y="46" width="16" height="438" fill="#d4d0c8" />
<rect x="1055" y="47" width="14" height="1" fill="#ffffff" />
<rect x="1055" y="47" width="1" height="436" fill="#ffffff" />
<rect x="1068" y="47" width="1" height="436" fill="#808080" />
<rect x="1055" y="482" width="14" height="1" fill="#808080" />
<rect x="1069" y="46" width="1" height="438" fill="#404040" />
<rect x="1054" y="483" width="16" height="1" fill="#404040" />
<rect x="1054" y="762" width="16" height="16" fill="#d4d0c8" />
<rect x="1055" y="763" width="14" height="1" fill="#ffffff" />
<rect x="1055" y="763" width="1" height="14" fill="#ffffff" />
<rect x="1068" y="763" width="1" height="14" fill="#808080" />
<rect x="1055" y="776" width="14" height="1" fill="#808080" />
<rect x="1069" y="762" width="1" height="16" fill="#404040" />
<rect x="1054" y="777" width="16" height="1" fill="#404040" />
<path d="M1058 768L1065 768L1061.5 772Z" fill="#000"/>
<rect x="3" y="778" width="1051" height="16" fill="url(#chk)" />
<rect x="3" y="778" width="16" height="16" fill="#d4d0c8" />
<rect x="4" y="779" width="14" height="1" fill="#ffffff" />
<rect x="4" y="779" width="1" height="14" fill="#ffffff" />
<rect x="17" y="779" width="1" height="14" fill="#808080" />
<rect x="4" y="792" width="14" height="1" fill="#808080" />
<rect x="18" y="778" width="1" height="16" fill="#404040" />
<rect x="3" y="793" width="16" height="1" fill="#404040" />
<path d="M12.5 782.5V789.5L9 786Z" fill="#000"/>
<rect x="19" y="778" width="992" height="16" fill="#d4d0c8" />
<rect x="20" y="779" width="990" height="1" fill="#ffffff" />
<rect x="20" y="779" width="1" height="14" fill="#ffffff" />
<rect x="1009" y="779" width="1" height="14" fill="#808080" />
<rect x="20" y="792" width="990" height="1" fill="#808080" />
<rect x="1010" y="778" width="1" height="16" fill="#404040" />
<rect x="19" y="793" width="992" height="1" fill="#404040" />
<rect x="1038" y="778" width="16" height="16" fill="#d4d0c8" />
<rect x="1039" y="779" width="14" height="1" fill="#ffffff" />
<rect x="1039" y="779" width="1" height="14" fill="#ffffff" />
<rect x="1052" y="779" width="1" height="14" fill="#808080" />
<rect x="1039" y="792" width="14" height="1" fill="#808080" />
<rect x="1053" y="778" width="1" height="16" fill="#404040" />
<rect x="1038" y="793" width="16" height="1" fill="#404040" />
<path d="M1044.5 782.5V789.5L1048 786Z" fill="#000"/>
<rect x="1054" y="778" width="16" height="16" fill="#d4d0c8" />
<rect x="0" y="794" width="1073" height="3" fill="#c0c0c0" />
<rect x="1070" y="0" width="3" height="797" fill="#c0c0c0" />
</svg></body></html>
